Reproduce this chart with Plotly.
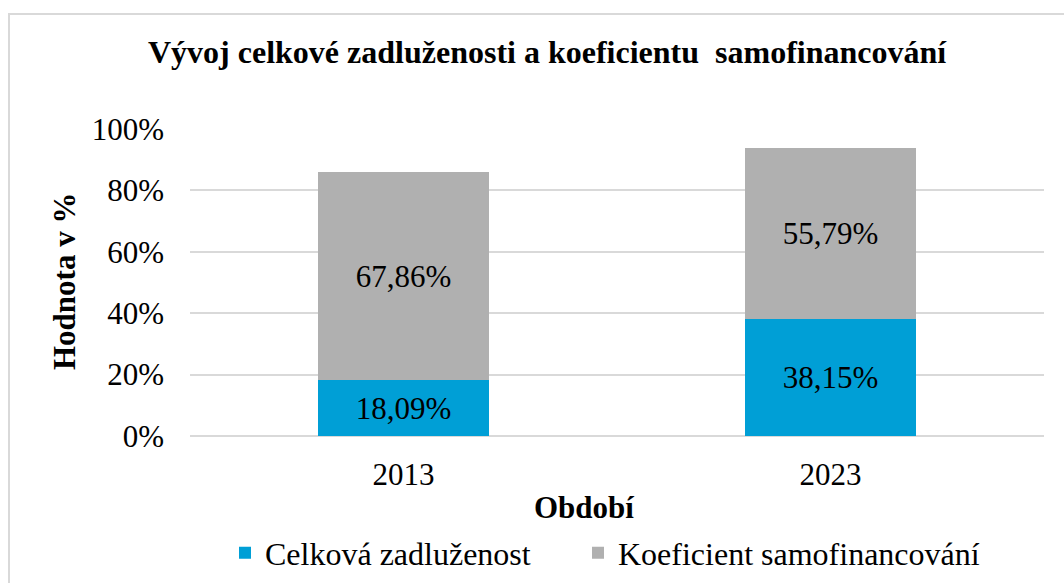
import plotly.graph_objects as go

years = ["2013", "2023"]
zadluzenost = [18.09, 38.15]
samofinancovani = [67.86, 55.79]
series_names = ["Celková zadluženost", "Koeficient samofinancování"]

FONT = "Liberation Serif, Times New Roman, serif"
BLUE = "#009fd6"
GRAY = "#b0b0b0"

W, H = 1064, 583
L, R, T, B = 190, 20, 129, 147
pw, ph = W - L - R, H - T - B


def px_x(x):
    return (x - L) / pw


def px_y(y):
    return (H - B - y) / ph


def legend_box(x_px):
    return {
        "orientation": "h",
        "x": px_x(x_px),
        "xanchor": "left",
        "y": px_y(553),
        "yanchor": "middle",
        "font": {"family": FONT, "size": 32},
        "itemwidth": 30,
        "bgcolor": "rgba(0,0,0,0)",
    }


fig = go.Figure()
traces = [
    (series_names[0], zadluzenost, BLUE, "legend"),
    (series_names[1], samofinancovani, GRAY, "legend2"),
]
for name, vals, color, leg in traces:
    fig.add_trace(
        go.Bar(
            x=years,
            y=vals,
            name=name,
            legend=leg,
            marker={"color": color, "line": {"width": 0}},
            texttemplate="%{y:.2f}%",
            textposition="inside",
            insidetextanchor="middle",
            textfont={"family": FONT, "size": 31, "color": "black"},
            constraintext="none",
        )
    )

fig.update_layout(
    width=W,
    height=H,
    barmode="stack",
    bargap=0.6,
    separators=", ",
    paper_bgcolor="white",
    plot_bgcolor="white",
    font={"family": FONT, "color": "black", "size": 31},
    margin={"l": L, "r": R, "t": T, "b": B, "autoexpand": False},
    showlegend=True,
    legend=legend_box(225),
    legend2=legend_box(578),
    xaxis={
        "showgrid": False,
        "showline": False,
        "ticks": "",
        "tickfont": {"family": FONT, "size": 31},
        "ticklabelstandoff": 17,
    },
    yaxis={
        "range": [0, 100],
        "tick0": 0,
        "dtick": 20,
        "ticksuffix": "%",
        "showgrid": True,
        "gridcolor": "#d9d9d9",
        "gridwidth": 1.5,
        "zeroline": True,
        "zerolinecolor": "#d9d9d9",
        "zerolinewidth": 1.5,
        "showline": False,
        "ticks": "",
        "tickfont": {"family": FONT, "size": 31},
        "ticklabelstandoff": 25,
    },
    annotations=[
        {
            "text": "<b>Vývoj celkové zadluženosti a koeficientu&nbsp; samofinancování</b>",
            "xref": "paper", "yref": "paper",
            "x": px_x(547), "y": px_y(52),
            "xanchor": "center", "yanchor": "middle",
            "showarrow": False,
            "font": {"family": FONT, "size": 32},
        },
        {
            "text": "<b>Hodnota v %</b>",
            "xref": "paper", "yref": "paper",
            "x": px_x(64), "y": px_y(282),
            "xanchor": "center", "yanchor": "middle",
            "textangle": -90,
            "showarrow": False,
            "font": {"family": FONT, "size": 31},
        },
        {
            "text": "<b>Období</b>",
            "xref": "paper", "yref": "paper",
            "x": px_x(584), "y": px_y(507),
            "xanchor": "center", "yanchor": "middle",
            "showarrow": False,
            "font": {"family": FONT, "size": 31},
        },
    ],
    shapes=[
        {
            "type": "rect",
            "xref": "paper", "yref": "paper",
            "x0": px_x(9), "x1": px_x(1070),
            "y0": px_y(600), "y1": px_y(14),
            "line": {"color": "#d9d9d9", "width": 2},
            "fillcolor": "rgba(0,0,0,0)",
            "layer": "below",
        }
    ],
)

# the page body has an 8px default margin; drop it so the figure sits at 0,0
fig.write_html(
    "out.html",
    config={"displayModeBar": False},
    post_script="document.body.style.margin='0';",
)
